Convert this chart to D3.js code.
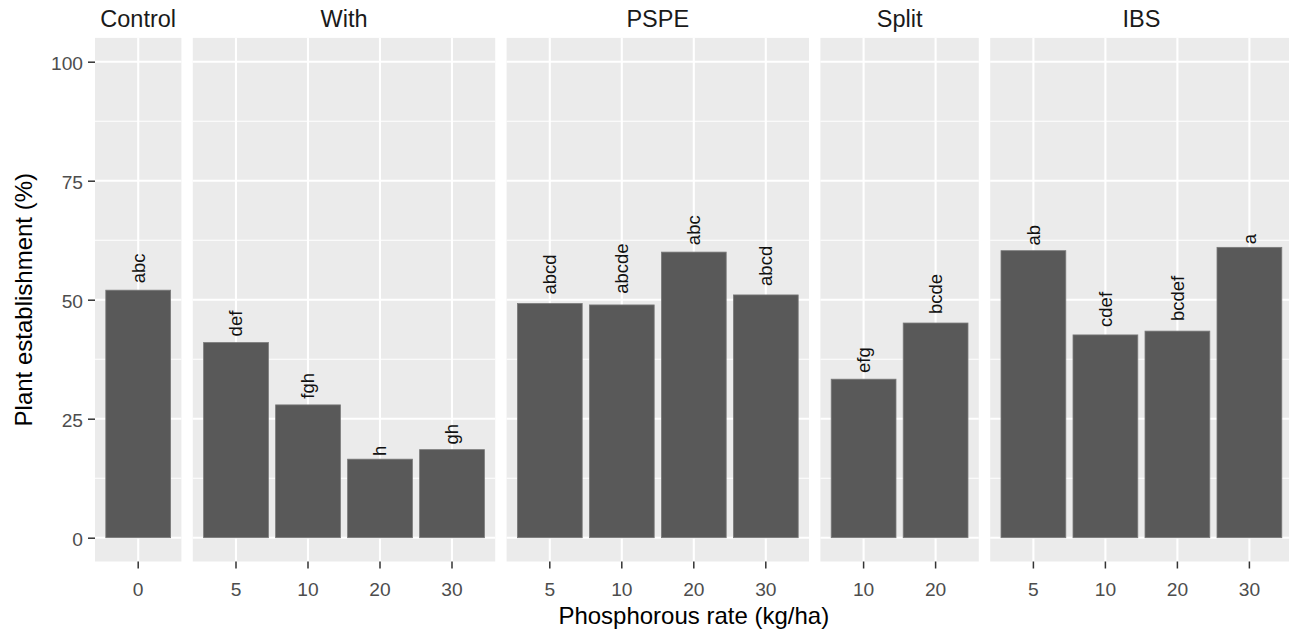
<!DOCTYPE html>
<html>
<head>
<meta charset="utf-8">
<script src="https://cdn.jsdelivr.net/npm/d3@7"></script>
<style>
  html, body { margin: 0; padding: 0; background: #ffffff; }
  svg { display: block; font-family: "Liberation Sans", Arial, Helvetica, sans-serif; }
</style>
</head>
<body>
<svg id="chart" width="1289" height="632"></svg>
<script>
// ---- data ----
const facets = ["Control", "With", "PSPE", "Split", "IBS"];
const rates = [
  ["0"],
  ["5", "10", "20", "30"],
  ["5", "10", "20", "30"],
  ["10", "20"],
  ["5", "10", "20", "30"]
];
const establishment = [
  [52.0],
  [41.0, 27.9, 16.5, 18.5],
  [49.2, 48.9, 60.0, 51.0],
  [33.3, 45.1],
  [60.3, 42.6, 43.4, 61.0]
];
const letters = [
  ["abc"],
  ["def", "fgh", "h", "gh"],
  ["abcd", "abcde", "abc", "abcd"],
  ["efg", "bcde"],
  ["ab", "cdef", "bcdef", "a"]
];
const yTicks = [0, 25, 50, 75, 100];
const yMinor = [12.5, 37.5, 62.5, 87.5];
const xTitle = "Phosphorous rate (kg/ha)";
const yTitle = "Plant establishment (%)";

// ---- layout ----
const svg = d3.select("#chart");
const panelTop = 37.9, panelBottom = 561.5;
const left0 = 95, unit = 72, gap = 11.4;

const y = d3.scaleLinear().domain([-5, 105]).range([panelBottom, panelTop]);

let cursor = left0;
const panels = facets.map((f, i) => {
  const w = unit * (rates[i].length + 0.2);
  const p = { name: f, x0: cursor, x1: cursor + w, idx: i };
  p.x = d3.scaleBand().domain(rates[i]).range([p.x0, p.x1])
          .paddingInner(0.1).paddingOuter(0.15).align(0.5);
  cursor += w + gap;
  return p;
});

const gridMajor = 2.1, gridMinor = 1.05;

panels.forEach(p => {
  const g = svg.append("g");
  // background
  g.append("rect").attr("x", p.x0).attr("y", panelTop)
    .attr("width", p.x1 - p.x0).attr("height", panelBottom - panelTop)
    .attr("fill", "#EBEBEB");
  // minor grid
  g.selectAll(".ymin").data(yMinor).enter().append("line")
    .attr("x1", p.x0).attr("x2", p.x1)
    .attr("y1", d => y(d)).attr("y2", d => y(d))
    .attr("stroke", "#ffffff").attr("stroke-width", gridMinor);
  // major grid
  g.selectAll(".ymaj").data(yTicks).enter().append("line")
    .attr("x1", p.x0).attr("x2", p.x1)
    .attr("y1", d => y(d)).attr("y2", d => y(d))
    .attr("stroke", "#ffffff").attr("stroke-width", gridMajor);
  g.selectAll(".xmaj").data(rates[p.idx]).enter().append("line")
    .attr("x1", d => p.x(d) + p.x.bandwidth() / 2).attr("x2", d => p.x(d) + p.x.bandwidth() / 2)
    .attr("y1", panelTop).attr("y2", panelBottom)
    .attr("stroke", "#ffffff").attr("stroke-width", gridMajor);

  const data = rates[p.idx].map((r, j) => ({ r, v: establishment[p.idx][j], lab: letters[p.idx][j] }));
  // bars
  g.selectAll(".bar").data(data).enter().append("rect")
    .attr("x", d => p.x(d.r)).attr("width", p.x.bandwidth())
    .attr("y", d => y(d.v)).attr("height", d => y(0) - y(d.v))
    .attr("fill", "#595959").attr("stroke", "#7a7a7a").attr("stroke-width", 0.8);
  // labels
  g.selectAll(".lab").data(data).enter().append("text")
    .text(d => d.lab)
    .attr("font-size", 18.5).attr("fill", "#111111")
    .attr("dy", "0.35em")
    .each(function(d) {
      const len = this.getComputedTextLength();
      const cx = p.x(d.r) + p.x.bandwidth() / 2;
      const cy = y(d.v) - 0.2 * len - 1;
      d3.select(this).attr("transform", `translate(${cx},${cy}) rotate(-90)`);
    });

  // strip text
  svg.append("text").attr("x", (p.x0 + p.x1) / 2).attr("y", 26.5)
    .attr("text-anchor", "middle").attr("font-size", 23.5).attr("fill", "#1A1A1A")
    .text(p.name);

  // x axis
  const xa = svg.append("g").attr("transform", `translate(0,${panelBottom})`)
    .call(d3.axisBottom(p.x).tickSize(7).tickPadding(0).tickSizeOuter(0));
  xa.select(".domain").remove();
  xa.selectAll(".tick line").attr("stroke", "#333333").attr("stroke-width", 1.5);
  xa.selectAll(".tick text").attr("fill", "#4D4D4D").attr("font-size", 19.2)
    .attr("font-family", null).attr("dy", null).attr("y", 34.5);
});

// y axis
const ya = svg.append("g").attr("transform", `translate(${left0},0)`)
  .call(d3.axisLeft(y).tickValues(yTicks).tickSize(7).tickPadding(0));
ya.select(".domain").remove();
ya.selectAll(".tick line").attr("stroke", "#333333").attr("stroke-width", 1.5);
ya.selectAll(".tick text").attr("fill", "#4D4D4D").attr("font-size", 19.2)
  .attr("font-family", null).attr("dy", null).attr("x", -12).attr("y", 7.5);
ya.attr("font-family", null); 
svg.selectAll("g").attr("font-family", null);

// axis titles
svg.append("text").attr("x", (left0 + panels[panels.length - 1].x1) / 2).attr("y", 624)
  .attr("text-anchor", "middle").attr("font-size", 24).attr("fill", "#000000")
  .text(xTitle);
svg.append("text").attr("transform", `translate(31.5,${(panelTop + panelBottom) / 2}) rotate(-90)`)
  .attr("text-anchor", "middle").attr("font-size", 24).attr("fill", "#000000")
  .text(yTitle);
</script>
</body>
</html>
